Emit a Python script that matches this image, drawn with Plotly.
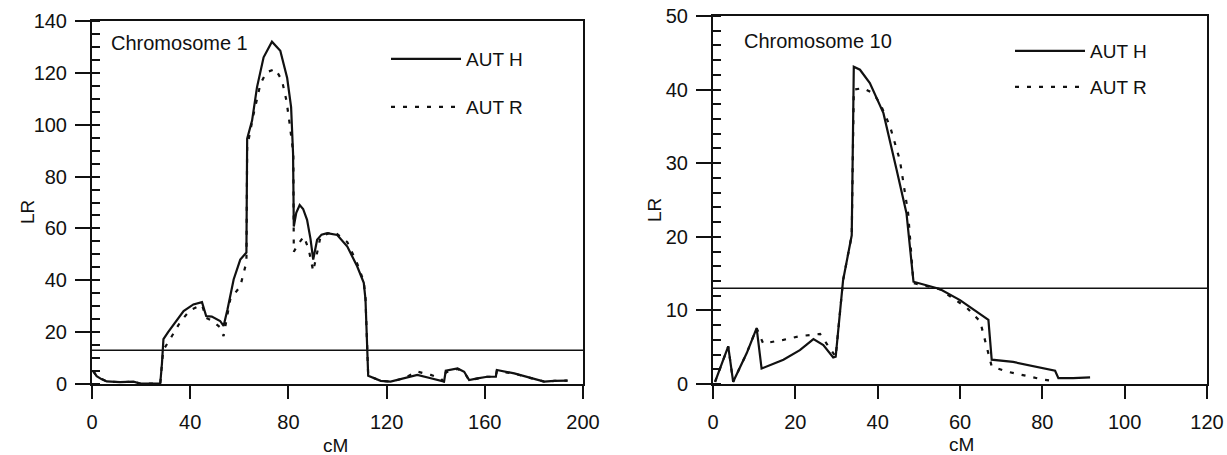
import plotly.graph_objects as go

# ---------------- data ----------------
# Chromosome 1
cm1_h = [0.5, 1.9, 4, 6, 11.4, 16.9, 19.6, 27.8, 28.5, 29.1, 31, 33.2, 37.3, 41.3, 44.8, 46.5, 48.8, 52.2,
         53.6, 55.2, 57.7, 60.4, 62.9, 63.2, 65.2, 67.2, 69.9, 73.3, 76.7, 79.5, 81.1, 81.9, 82.2, 83.2,
         84.6, 86, 87.6, 89, 90.1, 91.7, 93.5, 95.8, 99.9, 104, 108, 110.7, 111.4, 112.5, 117.6, 121.6,
         127, 132.5, 138, 143.4, 144.1, 148.9, 151.6, 153.6, 157, 161, 164.5, 164.9, 172, 178.8, 184.2,
         188.3, 193.7]
lr1_h = [5, 3, 1.8, 1, 0.7, 0.9, 0.2, 0.2, 8, 17.3, 20, 23, 28.1, 30.7, 31.6, 26.2, 26, 24.3,
         22.4, 28.8, 40.3, 48, 50.7, 94.6, 101.6, 114.4, 126, 132, 128.5, 118, 106.8, 88.9, 60.7, 66,
         69, 67.5, 63.3, 56, 48, 55.6, 57.6, 58.2, 57.5, 53, 45.4, 39, 32.6, 3.2, 1.2, 0.9,
         2.2, 3.5, 2.2, 0.9, 5.1, 6, 4.7, 1.5, 2.2, 2.8, 2.8, 5.4, 4.1, 2.2, 0.9,
         1.2, 1.3]

cm1_r = [0.5, 1.9, 6, 11.4, 16.9, 19.6, 27.8, 29, 31.8, 36, 40, 44.8, 46.5, 48.8, 52, 53.6, 56.3, 60.4,
         62.9, 63.2, 65.8, 68.6, 71, 74.7, 77.4, 79.2, 80.5, 82, 82.2, 84, 86.3, 88.3, 90.1, 93.1, 98.5,
         104, 108, 110.7, 111.4, 112.5, 117.6, 121.6, 127, 132.5, 138, 142, 143.4, 144.1, 148.9, 151.6,
         153.6, 157, 161, 164.5, 164.9, 172, 178.8, 184.2, 188.3, 193.7]
lr1_r = [5, 3, 1, 0.7, 0.9, 0.2, 0.2, 13, 17.3, 24, 28.5, 30.5, 25.5, 24.5, 22, 18.5, 32.6, 37.7,
         47, 91.4, 104, 115.7, 120.2, 121.5, 117, 109.3, 100.4, 89, 51, 54, 56.9, 51.8, 43.5, 56.9, 58.8,
         54.7, 46.5, 39.5, 33, 3.2, 1.2, 0.9, 2.2, 4.8, 3.5, 2.2, 0.9, 4.5, 5.8, 4.5,
         1.5, 2.2, 2.8, 2.8, 5, 4, 2.2, 0.9, 1.2, 1.3]

# Chromosome 10
cm10_h = [0.5, 2.1, 3.7, 4.9, 8.2, 10.6, 11.8, 17.1, 21.1, 24.4, 26.8, 29.2, 29.8, 31.6, 33.7, 34.2,
          35.7, 38.1, 41.4, 44.6, 47, 48.7, 55.1, 60, 66.9, 67.7, 72.9, 83.1, 83.9, 87.5, 91.6]
lr10_h = [0.3, 2.8, 5.1, 0.3, 4.2, 7.6, 2.1, 3.3, 4.6, 6.1, 5.3, 3.6, 3.7, 14.1, 20.2, 43.1,
          42.7, 40.9, 36.8, 29.1, 23.2, 13.9, 12.9, 11.4, 8.7, 3.3, 3.0, 1.8, 0.8, 0.8, 0.9]

cm10_r = [0.5, 2.1, 3.7, 4.9, 8.2, 10.6, 12.2, 17.1, 21.1, 26, 28.8, 29.8, 31.6, 33.7, 34.2, 36.5,
          38.9, 40.6, 43, 45.4, 47.4, 48.7, 55, 61.6, 64.9, 67.7, 71.3, 80.2, 82.7]
lr10_r = [0.3, 2.8, 5.1, 0.3, 4.2, 7.6, 5.5, 6, 6.5, 6.8, 4.6, 3.7, 14.1, 20.2, 40, 40.2,
          39.5, 38.1, 35, 30.4, 23.2, 13.7, 12.9, 10.4, 8.5, 2.4, 1.7, 0.6, 0.4]

threshold = 13
series_names = ["AUT H", "AUT R"]
panel_titles = ["Chromosome 1", "Chromosome 10"]
x_label = "cM"
y_label = "LR"

# ---------------- figure ----------------
FONT = "Liberation Sans, Arial, sans-serif"
INK = "#111111"
W, H = 1227, 455

fig = go.Figure()

solid = dict(color=INK, width=2.2)
dotted = dict(color=INK, width=2.2, dash="4px,8px")

fig.add_trace(go.Scatter(x=cm1_h, y=lr1_h, mode="lines", line=solid, name=series_names[0],
                         xaxis="x", yaxis="y", legend="legend"))
fig.add_trace(go.Scatter(x=cm1_r, y=lr1_r, mode="lines", line=dotted, name=series_names[1],
                         xaxis="x", yaxis="y", legend="legend2"))
fig.add_trace(go.Scatter(x=cm10_h, y=lr10_h, mode="lines", line=solid, name=series_names[0],
                         xaxis="x2", yaxis="y2", legend="legend3"))
fig.add_trace(go.Scatter(x=cm10_r, y=lr10_r, mode="lines", line=dotted, name=series_names[1],
                         xaxis="x2", yaxis="y2", legend="legend4"))

# threshold lines
fig.add_shape(type="line", xref="x domain", yref="y", x0=0, x1=1, y0=threshold, y1=threshold,
              line=dict(color=INK, width=1.6))
fig.add_shape(type="line", xref="x2 domain", yref="y2", x0=0, x1=1, y0=threshold, y1=threshold,
              line=dict(color=INK, width=1.6))

tickfont = dict(family=FONT, size=20, color=INK)

def xaxis(domain, rng, dtick, anchor):
    return dict(domain=domain, range=rng, dtick=dtick, tick0=0, anchor=anchor, automargin=False,
                showgrid=False, zeroline=False, showline=True, linecolor=INK, linewidth=2,
                mirror=True, ticks="outside", ticklen=13, tickwidth=2, tickcolor=INK,
                tickfont=tickfont, ticklabelstandoff=6)

def yaxis(domain, rng, dtick, minor_dtick, anchor):
    return dict(domain=domain, range=rng, dtick=dtick, tick0=0, anchor=anchor, automargin=False,
                showgrid=False, zeroline=False, showline=True, linecolor=INK, linewidth=2,
                mirror=True, ticks="outside", ticklen=15, tickwidth=2, tickcolor=INK,
                tickfont=tickfont, ticklabelstandoff=4,
                minor=dict(dtick=minor_dtick, ticks="inside", ticklen=8, tickwidth=2, tickcolor=INK,
                           showgrid=False))

def ydup(domain, rng, dtick, anchor, overlay):
    return dict(domain=domain, range=rng, dtick=dtick, tick0=0, anchor=anchor, overlaying=overlay,
                automargin=False, showgrid=False, zeroline=False, showline=False, ticks="inside",
                ticklen=8, tickwidth=2, tickcolor=INK, showticklabels=False)

xd1 = [92 / W, 583 / W]
xd2 = [713 / W, 1207 / W]
yd1 = [1 - 384 / H, 1 - 21 / H]
yd2 = [1 - 384 / H, 1 - 16 / H]

fig.update_layout(
    template="none",
    width=W, height=H,
    margin=dict(l=0, r=0, t=0, b=0),
    paper_bgcolor="white", plot_bgcolor="white",
    font=dict(family=FONT, color=INK),
    xaxis=xaxis(xd1, [0, 200], 40, "y"),
    yaxis=yaxis(yd1, [0, 140], 20, 5, "x"),
    xaxis2=xaxis(xd2, [0, 120], 20, "y2"),
    yaxis2=yaxis(yd2, [0, 50], 10, 2, "x2"),
    yaxis3=ydup(yd1, [0, 140], 20, "x", "y"),
    yaxis4=ydup(yd2, [0, 50], 10, "x2", "y2"),
    showlegend=True,
)

leg_common = dict(font=dict(family=FONT, size=19, color=INK), bgcolor="rgba(0,0,0,0)",
                  borderwidth=0, itemwidth=70, xanchor="left", yanchor="middle",
                  itemclick=False, itemdoubleclick=False)
fig.update_layout(
    legend=dict(x=386 / W, y=1 - 59 / H, **leg_common),
    legend2=dict(x=386 / W, y=1 - 107 / H, **leg_common),
    legend3=dict(x=1010 / W, y=1 - 51 / H, **leg_common),
    legend4=dict(x=1010 / W, y=1 - 87 / H, **leg_common),
)

# invisible traces to activate the duplicate (inside major tick) axes
fig.add_trace(go.Scatter(x=[None], y=[None], xaxis="x", yaxis="y3", showlegend=False, hoverinfo="skip"))
fig.add_trace(go.Scatter(x=[None], y=[None], xaxis="x2", yaxis="y4", showlegend=False, hoverinfo="skip"))

afont = dict(family=FONT, size=20, color=INK)
fig.add_annotation(text=panel_titles[0], xref="paper", yref="paper", x=109 / W, y=1 - 43 / H,
                   xanchor="left", yanchor="middle", showarrow=False, font=afont)
fig.add_annotation(text=panel_titles[1], xref="paper", yref="paper", x=742 / W, y=1 - 41 / H,
                   xanchor="left", yanchor="middle", showarrow=False, font=afont)
# axis titles
tfont = dict(family=FONT, size=19, color=INK)
for (xc, yc) in [(335, 445), (962, 444)]:
    fig.add_annotation(text=x_label, xref="paper", yref="paper", x=xc / W, y=1 - yc / H,
                       xanchor="center", yanchor="middle", showarrow=False, font=tfont)
for (xc, yc) in [(27, 212), (654, 210)]:
    fig.add_annotation(text=y_label, xref="paper", yref="paper", x=xc / W, y=1 - yc / H,
                       xanchor="center", yanchor="middle", showarrow=False, textangle=-90, font=tfont)

fig.write_html("out.html", config={"displayModeBar": False},
               post_script="document.body.style.margin='0px';")
